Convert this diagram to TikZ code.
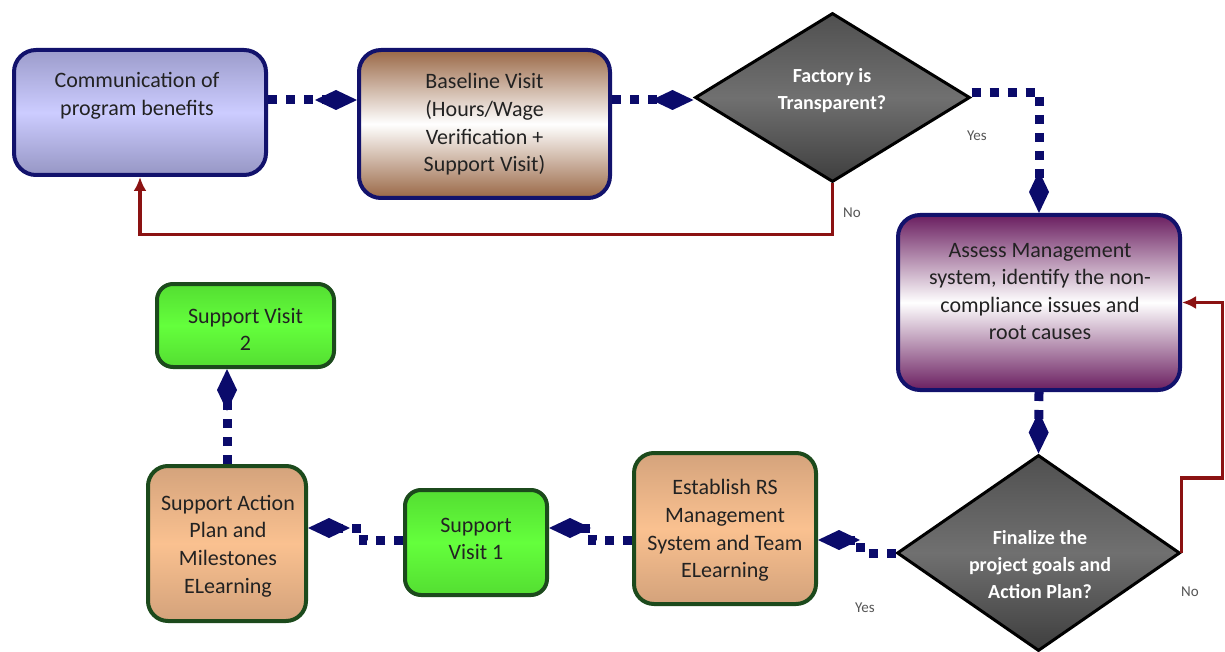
\documentclass[tikz,border=0pt]{standalone}
\usepackage{fontspec}
\setmainfont{Carlito}
\usetikzlibrary{arrows.meta,shapes.geometric,calc}
\definecolor{navyb}{HTML}{12126C}
\definecolor{navyc}{HTML}{0B0B6B}
\definecolor{redc}{HTML}{8B1212}
\definecolor{greenb}{HTML}{1C4A1C}
\definecolor{txt}{HTML}{222222}
\definecolor{lab}{HTML}{555555}
\tikzset{
  boxbase/.style={rectangle, rounded corners=22pt, line width=4pt, inner sep=0pt, shading=axis},
  lavbox/.style={boxbase, draw=navyb, top color={rgb,255:red,156;green,156;blue,203}, bottom color={rgb,255:red,150;green,150;blue,196}, middle color={rgb,255:red,204;green,204;blue,255}},
  brownbox/.style={boxbase, draw=navyb, top color={rgb,255:red,154;green,104;blue,70}, bottom color={rgb,255:red,154;green,104;blue,70}, middle color=white},
  purplebox/.style={boxbase, draw=navyb, top color={rgb,255:red,106;green,30;blue,96}, bottom color={rgb,255:red,106;green,30;blue,96}, middle color=white},
  greenbox/.style={boxbase, rounded corners=16pt, draw=greenb, top color={rgb,255:red,84;green,222;blue,50}, bottom color={rgb,255:red,84;green,222;blue,50}, middle color={rgb,255:red,100;green,255;blue,60}},
  peachbox/.style={boxbase, rounded corners=20pt, draw=greenb, top color={rgb,255:red,212;green,163;blue,124}, bottom color={rgb,255:red,211;green,162;blue,123}, middle color={rgb,255:red,250;green,193;blue,144}},
  decbox/.style={diamond, draw=black, line width=3pt, inner sep=0pt, shading=axis, top color={rgb,255:red,80;green,80;blue,80}, bottom color={rgb,255:red,62;green,62;blue,62}, middle color={rgb,255:red,112;green,112;blue,112}},
  btext/.style={font=\fontsize{22}{27.6}\selectfont, align=center, text=txt, inner sep=0pt},
  dtext/.style={font=\fontsize{20}{27}\selectfont\bfseries, align=center, text=white, inner sep=0pt},
  ltext/.style={font=\fontsize{15}{18}\selectfont, text=lab, inner sep=0pt},
  conn/.style={draw=navyc, line width=9pt, line cap=butt, dash pattern=on 9pt off 9pt, -{Diamond[length=42pt,width=20pt]}},
  noline/.style={draw=redc, line width=3.5pt, -{Latex[length=14pt,width=13pt]}},
}
\begin{document}
\begin{tikzpicture}[x=1pt,y=-1pt]
\useasboundingbox (0,0) rectangle (1225,652);
% boxes
\node[lavbox, minimum width=252pt, minimum height=125pt] (comm) at (140,112.5) {};
\node[brownbox, minimum width=251pt, minimum height=148pt] (base) at (484.5,124) {};
\node[decbox, minimum width=275pt, minimum height=169pt] (d1) at (832.5,97.5) {};
\node[purplebox, minimum width=282pt, minimum height=175pt] (assess) at (1039,302.5) {};
\node[decbox, minimum width=283pt, minimum height=196pt] (d2) at (1038.5,553) {};
\node[peachbox, minimum width=182pt, minimum height=151pt] (est) at (725,528.5) {};
\node[greenbox, minimum width=142pt, minimum height=105pt] (sv1) at (476,542.5) {};
\node[peachbox, minimum width=158pt, minimum height=155pt] (act) at (227,543.5) {};
\node[greenbox, minimum width=177pt, minimum height=83pt] (sv2) at (245.5,325.5) {};
% texts
\node[btext] (commT) at (137,96) {Communication of\\program benefits};
\node[btext] (baseT) at (484.5,124.5) {Baseline Visit\\(Hours/Wage\\Verification +\\Support Visit)};
\node[dtext] (d1T) at (832,90.5) {Factory is\\Transparent?};
\node[btext] (assessT) at (1040,291.5) {Assess Management\\system, identify the non-\\compliance issues and\\root causes};
\node[dtext] (d2T) at (1040,565) {Finalize the\\project goals and\\Action Plan?};
\node[btext] (estT) at (725,530.5) {Establish RS\\Management\\System and Team\\ELearning};
\node[btext] (sv1T) at (476,539) {Support\\Visit 1};
\node[btext] (actT) at (228,546) {Support Action\\Plan and\\Milestones\\ELearning};
\node[btext] (sv2T) at (245.5,329.5) {Support Visit\\2};
% labels
\node[ltext] (yes1) at (977,136) {Yes};
\node[ltext] (no1) at (852,213) {No};
\node[ltext] (yes2) at (865,608) {Yes};
\node[ltext] (no2) at (1190,592) {No};
% connectors
\draw[conn] ([yshift=12.5pt]comm.east) -- ([yshift=24pt]base.west);
\draw[conn] ([yshift=24pt]base.east) -- ([yshift=-2.5pt]d1.west);
\draw[conn] ([yshift=5pt]d1.east) -| (assess.north);
\draw[conn] (assess.south) -- (d2.north);
\draw[conn] (d2.west) -- ++(-35,0) |- ([yshift=-11.5pt]est.east);
\draw[conn] ([yshift=-11.5pt]est.west) -- ++(-40,0) |- ([yshift=14.5pt]sv1.east);
\draw[conn] ([yshift=2.5pt]sv1.west) -- ++(-40,0) |- ([yshift=15.5pt]act.east);
\draw[conn] (act.north) -- (act.north |- sv2.south);
\draw[noline] (d1.south) -- ++(0,51) -| (comm.south);
\draw[noline] (d2.east) -- ++(0,-75) -- ++(41,0) |- (assess.east);
\end{tikzpicture}
\end{document}
